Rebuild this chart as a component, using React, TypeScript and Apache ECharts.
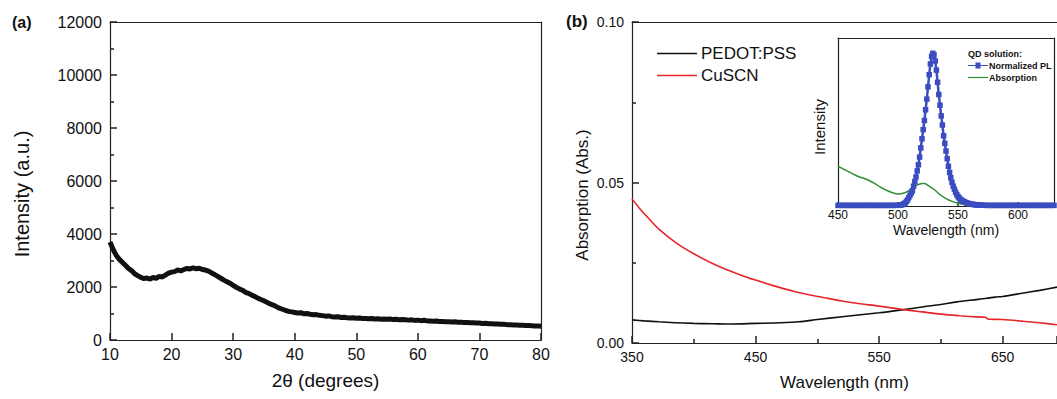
import React, { useEffect, useRef } from "react";
import * as echarts from "echarts";

// ---- Panel (a): XRD pattern, 2θ (degrees) vs intensity (a.u.) ----
const xrdData: [number, number][] = [
  [10, 3700], [10.5, 3420], [11, 3200], [11.5, 3050], [12, 2930], [12.5, 2820], [13, 2700], [13.5, 2620],
  [14, 2500], [14.5, 2430], [15, 2360], [15.5, 2320], [16, 2340], [16.5, 2300], [17, 2360], [17.5, 2330],
  [18, 2400], [18.5, 2380], [19, 2450], [19.5, 2520], [20, 2560], [20.5, 2580], [21, 2640], [21.5, 2610],
  [22, 2660], [22.5, 2700], [23, 2680], [23.5, 2720], [24, 2690], [24.5, 2710], [25, 2660], [25.5, 2640],
  [26, 2600], [26.5, 2530], [27, 2470], [27.5, 2400], [28, 2330], [28.5, 2260], [29, 2200], [29.5, 2140],
  [30, 2060], [30.5, 1990], [31, 1930], [31.5, 1880], [32, 1800], [32.5, 1760], [33, 1700], [33.5, 1640],
  [34, 1580], [34.5, 1530], [35, 1480], [35.5, 1420], [36, 1360], [36.5, 1320], [37, 1260], [37.5, 1200],
  [38, 1160], [38.5, 1120], [39, 1080], [39.5, 1060], [40, 1040], [40.5, 1020], [41, 1030], [41.5, 990],
  [42, 1000], [42.5, 970], [43, 950], [43.5, 960], [44, 930], [44.5, 920], [45, 900], [45.5, 910],
  [46, 880], [46.5, 870], [47, 880], [47.5, 850], [48, 860], [48.5, 840], [49, 830], [49.5, 840],
  [50, 820], [50.5, 830], [51, 810], [51.5, 815], [52, 800], [52.5, 810], [53, 790], [53.5, 800],
  [54, 785], [54.5, 790], [55, 780], [55.5, 790], [56, 770], [56.5, 780], [57, 760], [57.5, 770],
  [58, 760], [58.5, 750], [59, 760], [59.5, 740], [60, 750], [60.5, 730], [61, 745], [61.5, 720],
  [62, 720], [62.5, 710], [63, 715], [63.5, 700], [64, 700], [64.5, 690], [65, 690], [65.5, 680],
  [66, 690], [66.5, 670], [67, 670], [67.5, 660], [68, 660], [68.5, 650], [69, 650], [69.5, 640],
  [70, 640], [70.5, 625], [71, 630], [71.5, 610], [72, 615], [72.5, 600], [73, 600], [73.5, 590],
  [74, 590], [74.5, 580], [75, 575], [75.5, 570], [76, 565], [76.5, 560], [77, 555], [77.5, 550],
  [78, 545], [78.5, 540], [79, 530], [79.5, 525], [80, 520],
];

// ---- Panel (b): absorption spectra ----
const pedotData: [number, number][] = [
  [350, 0.0072], [360, 0.0069], [372, 0.0066], [385, 0.0063], [400, 0.0061], [415, 0.006], [430, 0.0059],
  [450, 0.0061], [470, 0.0063], [485, 0.0066], [500, 0.0073], [520, 0.0082], [550, 0.0094], [570, 0.0104],
  [586, 0.0113], [600, 0.012], [613, 0.0128], [630, 0.0136], [644, 0.0143], [650, 0.0145], [666, 0.0155],
  [680, 0.0164], [694, 0.0174],
];
const cuscnData: [number, number][] = [
  [350, 0.0449], [356, 0.042], [362, 0.0394], [372, 0.0354], [386, 0.0311], [400, 0.0278], [420, 0.0239],
  [440, 0.0209], [450, 0.0196], [465, 0.0178], [480, 0.0162], [495, 0.0149], [506, 0.0141], [520, 0.0131],
  [533, 0.0123], [550, 0.0115], [570, 0.0104], [585, 0.0097], [600, 0.009], [615, 0.0085], [626, 0.0082],
  [636, 0.008], [638, 0.0075], [650, 0.0073], [666, 0.0068], [680, 0.0063], [694, 0.0057],
];

// ---- Inset: QD solution ----
const plData: [number, number][] = [
  [450, 0.004], [452, 0.004], [454, 0.004], [456, 0.004], [458, 0.004], [460, 0.004], [462, 0.004],
  [464, 0.004], [466, 0.004], [468, 0.004], [470, 0.004], [472, 0.004], [474, 0.004], [476, 0.004],
  [478, 0.004], [480, 0.004], [482, 0.004], [484, 0.004], [486, 0.004], [488, 0.004], [490, 0.004],
  [492, 0.004], [494, 0.004], [496, 0.004], [498, 0.004], [500, 0.005], [502, 0.006], [503, 0.008],
  [504, 0.01], [505, 0.015], [506, 0.02], [507, 0.03], [508, 0.04], [509, 0.055], [510, 0.07],
  [511, 0.085], [512, 0.1], [513, 0.13], [514, 0.16], [515, 0.19], [516, 0.23], [517, 0.27], [518, 0.32],
  [519, 0.38], [520, 0.44], [521, 0.5], [522, 0.56], [523, 0.63], [524, 0.7], [525, 0.78], [526, 0.86],
  [527, 0.93], [528, 0.98], [529, 1.0], [530, 0.99], [531, 0.95], [532, 0.89], [533, 0.81], [534, 0.73],
  [535, 0.66], [536, 0.59], [537, 0.53], [538, 0.46], [539, 0.41], [540, 0.36], [541, 0.31], [542, 0.26],
  [543, 0.22], [544, 0.185], [545, 0.155], [546, 0.13], [547, 0.11], [548, 0.09], [549, 0.075],
  [550, 0.062], [551, 0.052], [552, 0.044], [553, 0.038], [554, 0.033], [555, 0.028], [556, 0.024],
  [557, 0.021], [558, 0.018], [559, 0.016], [560, 0.014], [561, 0.012], [562, 0.011], [563, 0.01],
  [564, 0.009], [565, 0.008], [566, 0.007], [567, 0.006], [568, 0.006], [569, 0.005], [570, 0.005],
  [572, 0.005], [574, 0.004], [576, 0.004], [578, 0.004], [580, 0.004], [582, 0.004], [584, 0.004],
  [586, 0.004], [588, 0.004], [590, 0.004], [592, 0.004], [594, 0.004], [596, 0.004], [598, 0.004],
  [600, 0.004], [602, 0.004], [604, 0.004], [606, 0.004], [608, 0.004], [610, 0.004], [612, 0.004],
  [614, 0.004], [616, 0.004], [618, 0.004], [620, 0.004], [622, 0.004], [624, 0.004], [626, 0.004],
  [628, 0.004], [630, 0.004],
];
const absData: [number, number][] = [
  [450, 0.26], [455, 0.24], [460, 0.22], [465, 0.2], [470, 0.185], [475, 0.17], [480, 0.15], [485, 0.125],
  [490, 0.105], [495, 0.088], [500, 0.078], [505, 0.085], [510, 0.105], [515, 0.133], [520, 0.147],
  [522, 0.148], [525, 0.135], [530, 0.108], [535, 0.075], [540, 0.048], [545, 0.03], [550, 0.018],
  [555, 0.012], [560, 0.008], [570, 0.005], [580, 0.004], [600, 0.003], [630, 0.002],
];

const FONT = "'Liberation Sans', Arial, sans-serif";
const TXT = "#111";
const AX = "#222";
const BLUE = "#3a4cc0";
const GREEN = "#2f8f35";
const RED = "#e5262b";

const LINE_ICON = "path://M0,0H40V1.6H0Z";
const THIN_LINE_ICON = "path://M0,0H20V1.2H0Z";
const PL_ICON = "path://M0,2.4H7.5V0H12.5V2.4H20V3.6H12.5V6H7.5V3.6H0Z";

const tickStyle = (length: number) => ({ show: true, inside: true, length, lineStyle: { color: AX, width: 1.5 } });

const axisCommon = (fontSize: number, margin: number) => ({
  axisLine: { show: true, lineStyle: { color: AX, width: 1.2 } },
  axisTick: tickStyle(7),
  minorTick: { show: true, splitNumber: 2, length: 4, lineStyle: { color: AX, width: 1.5 } },
  splitLine: { show: false },
  axisLabel: { color: TXT, fontSize, fontFamily: FONT, margin },
});

// frame-only axis (top / right borders)
const frameAxis = (gridIndex: number, position: string, min: number, max: number) => ({
  gridIndex, type: "value", position, min, max,
  axisLine: { show: true, onZero: false, lineStyle: { color: AX, width: 1.2 } },
  axisTick: { show: false },
  minorTick: { show: false },
  axisLabel: { show: false },
  splitLine: { show: false },
});

export default function App() {
  const ref = useRef<HTMLDivElement>(null);
  useEffect(() => {
    if (!ref.current) return;
    const chart = echarts.init(ref.current, undefined, { renderer: "svg" });
    chart.setOption({
      animation: false,
      backgroundColor: "#fff",
      textStyle: { fontFamily: FONT },
      title: [
        { text: "(a)", left: 12, top: 14, padding: 0, textStyle: { fontSize: 16, fontWeight: "bold", color: TXT, fontFamily: FONT } },
        { text: "(b)", left: 566, top: 13, padding: 0, textStyle: { fontSize: 17, fontWeight: "bold", color: TXT, fontFamily: FONT } },
      ],
      grid: [
        { left: 110, top: 22, width: 431, height: 318 },
        { left: 632, top: 22, width: 430, height: 321 },
        { left: 838, top: 38, width: 216, height: 168 },
      ],
      legend: [
        {
          data: [
            { name: "PEDOT:PSS", icon: LINE_ICON },
            { name: "CuSCN", icon: LINE_ICON },
          ],
          orient: "vertical",
          left: 657,
          top: 45,
          padding: 0,
          itemWidth: 40,
          itemHeight: 10,
          itemGap: 5,
          textStyle: { fontSize: 17, color: TXT, fontFamily: FONT, padding: [0, 0, 0, -1] },
        },
        {
          data: [
            { name: "Normalized PL", icon: PL_ICON },
            { name: "Absorption", icon: THIN_LINE_ICON },
          ],
          orient: "vertical",
          left: 968,
          top: 61,
          padding: 0,
          itemWidth: 20,
          itemHeight: 6,
          itemGap: 3,
          textStyle: { fontSize: 9, fontWeight: "bold", color: TXT, fontFamily: FONT, padding: [0, 0, 0, -4] },
        },
      ],
      graphic: [
        { type: "text", left: 968, top: 49, z: 10, style: { text: "QD solution:", fontSize: 9, fontWeight: "bold", fill: TXT, fontFamily: FONT } },
      ],
      xAxis: [
        {
          gridIndex: 0, type: "value", min: 10, max: 80, interval: 10,
          ...axisCommon(16, 6),
          minorTick: { show: false },
          name: "2θ (degrees)", nameLocation: "middle", nameGap: 31,
          nameTextStyle: { fontSize: 19, color: TXT, fontFamily: FONT },
        },
        {
          gridIndex: 1, type: "value", min: 350, max: 694, interval: 100,
          ...axisCommon(14, 7),
          axisLabel: { color: TXT, fontSize: 14, fontFamily: FONT, margin: 7, showMaxLabel: false },
          name: "Wavelength (nm)", nameLocation: "middle", nameGap: 31,
          nameTextStyle: { fontSize: 17, color: TXT, fontFamily: FONT },
        },
        {
          gridIndex: 2, type: "value", min: 450, max: 630, interval: 50,
          ...axisCommon(12, 3),
          axisTick: tickStyle(4),
          minorTick: { show: false },
          axisLabel: { color: TXT, fontSize: 12, fontFamily: FONT, margin: 3, showMaxLabel: false },
          name: "Wavelength (nm)", nameLocation: "middle", nameGap: 17,
          nameTextStyle: { fontSize: 14, color: TXT, fontFamily: FONT },
        },
        frameAxis(0, "top", 10, 80),
        frameAxis(1, "top", 350, 694),
        frameAxis(2, "top", 450, 630),
      ],
      yAxis: [
        {
          gridIndex: 0, type: "value", min: 0, max: 12000, interval: 2000,
          ...axisCommon(16, 8),
          axisLabel: { color: TXT, fontSize: 16, fontFamily: FONT, margin: 8, formatter: (v: number) => String(v) },
          name: "Intensity (a.u.)", nameLocation: "middle", nameGap: 78,
          nameTextStyle: { fontSize: 20, color: TXT, fontFamily: FONT, padding: [0, 26, 0, 0] },
        },
        {
          gridIndex: 1, type: "value", min: 0, max: 0.1, interval: 0.05,
          ...axisCommon(14, 8),
          axisLabel: { color: TXT, fontSize: 14, fontFamily: FONT, margin: 8, formatter: (v: number) => v.toFixed(2) },
          name: "Absorption (Abs.)", nameLocation: "middle", nameGap: 41,
          nameTextStyle: { fontSize: 17, color: TXT, fontFamily: FONT, padding: [0, 25, 0, 0] },
        },
        {
          gridIndex: 2, type: "value", min: 0, max: 1.1,
          axisLine: { show: true, lineStyle: { color: AX, width: 1.2 } },
          axisTick: { show: false },
          minorTick: { show: false },
          axisLabel: { show: false },
          splitLine: { show: false },
          name: "Intensity", nameLocation: "middle", nameGap: 11,
          nameTextStyle: { fontSize: 15, color: TXT, fontFamily: FONT, padding: [0, 10, 0, 0] },
        },
        frameAxis(0, "right", 0, 12000),
        frameAxis(2, "right", 0, 1.1),
      ],
      series: [
        {
          name: "XRD", type: "line", xAxisIndex: 0, yAxisIndex: 0, data: xrdData,
          symbol: "none", lineStyle: { color: "#111", width: 5 }, itemStyle: { color: "#111" },
        },
        {
          name: "PEDOT:PSS", type: "line", xAxisIndex: 1, yAxisIndex: 1, data: pedotData, smooth: 0.3,
          symbol: "none", lineStyle: { color: "#111", width: 1.6 }, itemStyle: { color: "#111" },
        },
        {
          name: "CuSCN", type: "line", xAxisIndex: 1, yAxisIndex: 1, data: cuscnData, smooth: 0.3,
          symbol: "none", lineStyle: { color: RED, width: 1.6 }, itemStyle: { color: RED },
        },
        {
          name: "Normalized PL", type: "line", xAxisIndex: 2, yAxisIndex: 2, data: plData,
          symbol: "rect", symbolSize: 5.5, showAllSymbol: true,
          lineStyle: { color: BLUE, width: 2.5 }, itemStyle: { color: BLUE },
        },
        {
          name: "Absorption", type: "line", xAxisIndex: 2, yAxisIndex: 2, data: absData, smooth: 0.4,
          symbol: "none", lineStyle: { color: GREEN, width: 1.5 }, itemStyle: { color: GREEN },
        },
      ],
    });
    return () => chart.dispose();
  }, []);
  return (
    <div
      ref={ref}
      style={{ position: "fixed", left: 0, top: 0, width: 1057, height: 399, background: "#fff" }}
    />
  );
}
